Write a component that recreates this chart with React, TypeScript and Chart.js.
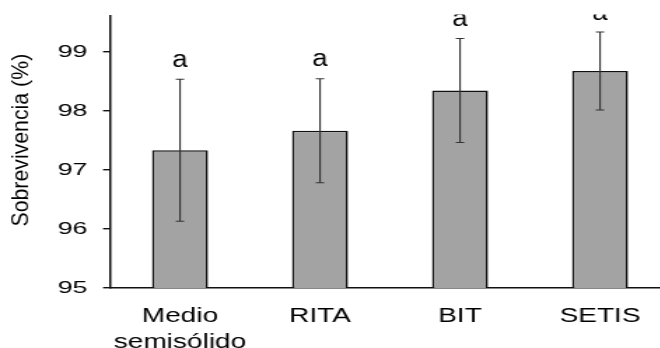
import React, { useEffect, useRef } from "react";
import { Chart, registerables } from "chart.js";

Chart.register(...registerables);

const categories: (string | string[])[] = [["Medio", "semisólido"], "RITA", "BIT", "SETIS"];
const means = [97.33, 97.66, 98.34, 98.67];
const errors = [1.2, 0.88, 0.88, 0.66];
const letters = ["a", "a", "a", "a"];
const yTicks = [95, 96, 97, 98, 99];
const yMin = 95;
const yMax = 99.6;
const yTitle = "Sobrevivencia (%)";

const SX = 1.4; // horizontal stretch of the reference picture
const FONT = '"Liberation Sans", Arial, Helvetica, sans-serif';

export default function App() {
  const ref = useRef<HTMLCanvasElement | null>(null);

  useEffect(() => {
    if (!ref.current) return;
    const overlay = {
      id: "overlay",
      afterDatasetsDraw(chart: any) {
        const ctx = chart.ctx as CanvasRenderingContext2D;
        const x = chart.scales.x;
        const y = chart.scales.y;

        // error bars
        ctx.save();
        ctx.strokeStyle = "#333";
        ctx.lineWidth = 1.1;
        means.forEach((m, i) => {
          const cx = x.getPixelForValue(i);
          const yt = y.getPixelForValue(m + errors[i]);
          const yb = y.getPixelForValue(m - errors[i]);
          ctx.beginPath();
          ctx.moveTo(cx, yt);
          ctx.lineTo(cx, yb);
          ctx.moveTo(cx - 3, yt);
          ctx.lineTo(cx + 3, yt);
          ctx.moveTo(cx - 3, yb);
          ctx.lineTo(cx + 3, yb);
          ctx.stroke();
        });
        ctx.restore();

        // significance letters
        ctx.save();
        ctx.beginPath();
        ctx.rect(0, 14.5, chart.width, chart.height);
        ctx.clip();
        ctx.fillStyle = "#000";
        ctx.font = `23px ${FONT}`;
        ctx.textAlign = "center";
        ctx.textBaseline = "alphabetic";
        means.forEach((m, i) => {
          const cx = x.getPixelForValue(i);
          const yt = y.getPixelForValue(m + errors[i]);
          ctx.save();
          ctx.translate(cx, yt - 12.3);
          ctx.scale(1.2 / SX, 1);
          ctx.fillText(letters[i], 0, 0);
          ctx.restore();
        });
        ctx.restore();

        // y tick labels
        ctx.save();
        ctx.fillStyle = "#000";
        ctx.font = `17px ${FONT}`;
        ctx.textAlign = "right";
        ctx.textBaseline = "middle";
        yTicks.forEach((v) => {
          ctx.save();
          ctx.translate(87.5 / SX, y.getPixelForValue(v) + 0.5);
          ctx.scale(1.58 / SX, 1);
          ctx.fillText(String(v), 0, 0);
          ctx.restore();
        });
        ctx.restore();

        // rotated y-axis title
        ctx.save();
        ctx.fillStyle = "#000";
        ctx.font = `21.3px ${FONT}`;
        ctx.textAlign = "center";
        ctx.textBaseline = "middle";
        ctx.translate(20.8 / SX, y.getPixelForValue(97.5));
        ctx.scale(1.13 / SX, 1);
        ctx.rotate(-Math.PI / 2);
        ctx.fillText(yTitle, 0, 0);
        ctx.restore();
      },
    };

    const chart = new Chart(ref.current, {
      type: "bar",
      data: {
        labels: categories as any,
        datasets: [
          {
            data: means,
            backgroundColor: "#a3a3a3",
            borderColor: "#111",
            borderWidth: 1.6,
            categoryPercentage: 1,
            barPercentage: 0.4,
          },
        ],
      },
      options: {
        animation: false,
        responsive: false,
        layout: { padding: { top: 16, right: 1.4, left: 0, bottom: 0 } },
        plugins: { legend: { display: false }, tooltip: { enabled: false } },
        scales: {
          x: {
            afterFit(scale: any) {
              scale.height = 60;
            },
            grid: { display: false, drawTicks: false },
            border: { display: true, color: "#111", width: 1.5 },
            ticks: {
              color: "#000",
              font: { family: FONT, size: 20, lineHeight: 1.3 },
              padding: 15,
              maxRotation: 0,
              autoSkip: false,
            },
          },
          y: {
            min: yMin,
            max: yMax,
            afterFit(scale: any) {
              scale.width = 110 / SX;
            },
            afterBuildTicks(scale: any) {
              scale.ticks = yTicks.map((v) => ({ value: v }));
            },
            grid: {
              drawOnChartArea: false,
              drawTicks: true,
              tickLength: 5,
              color: "#111",
              lineWidth: 1.4,
            },
            border: { display: true, color: "#111", width: 1.5 },
            ticks: { display: false },
          },
        },
      },
      plugins: [overlay],
    } as any);
    return () => chart.destroy();
  }, []);

  return (
    <div
      style={{
        position: "fixed",
        left: 0,
        top: 0,
        width: 660,
        height: 348,
        overflow: "hidden",
        background: "#fff",
      }}
    >
      <div
        style={{
          width: 480,
          height: 348,
          transform: `scaleX(${SX})`,
          transformOrigin: "0 0",
        }}
      >
        <canvas ref={ref} width={480} height={348} style={{ display: "block" }} />
      </div>
    </div>
  );
}
